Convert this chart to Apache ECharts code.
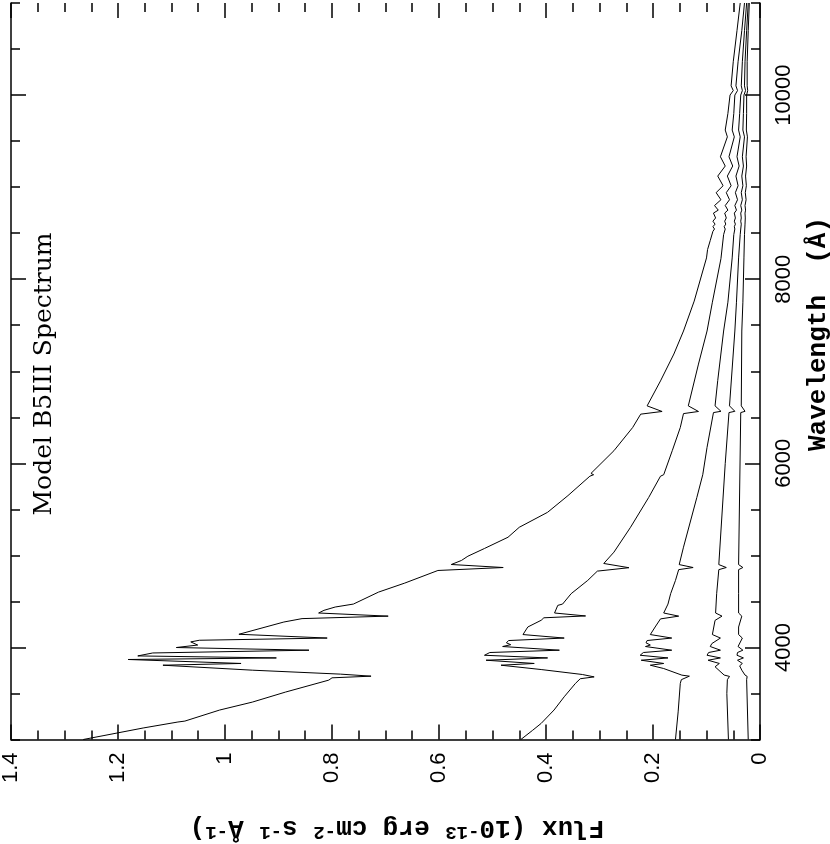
<!DOCTYPE html>
<html>
<head>
<meta charset="utf-8">
<script src="https://cdn.jsdelivr.net/npm/echarts@6/dist/echarts.min.js"></script>
<style>
html,body{margin:0;padding:0;background:#fff;}
#chart{width:830px;height:844px;}
</style>
</head>
<body>
<div id="chart"></div>
<script>
// [wavelength (Å), flux (1e-13 erg cm-2 s-1 Å-1)]
const curve1 = [[3000,1.265],[3041,1.228],[3125,1.153],[3190,1.088],[3200,1.075],[3320,1.01],[3406,0.949],[3515,0.887],[3645,0.806],[3670,0.80],[3688,0.727],[3710,0.784],[3753,0.949],[3807,1.116],[3826,0.97],[3869,1.181],[3886,0.904],[3908,1.163],[3940,1.135],[3970,0.843],[3999,1.091],[4026,1.051],[4060,1.064],[4078,1.048],[4102,0.809],[4143,0.974],[4276,0.89],[4313,0.856],[4340,0.695],[4374,0.825],[4403,0.815],[4439,0.794],[4471,0.76],[4601,0.713],[4699,0.664],[4836,0.602],[4868,0.48],[4901,0.577],[4945,0.558],[4991,0.546],[5075,0.515],[5197,0.471],[5305,0.45],[5468,0.397],[5649,0.359],[5860,0.318],[5876,0.311],[5890,0.316],[6137,0.273],[6389,0.238],[6534,0.223],[6563,0.183],[6624,0.211],[6895,0.186],[7187,0.161],[7437,0.143],[7762,0.123],[8231,0.100],[8322,0.098],[8420,0.093],[8480,0.090],[8520,0.088],[8545,0.085],[8570,0.088],[8598,0.084],[8630,0.088],[8665,0.083],[8718,0.087],[8750,0.078],[8800,0.085],[8863,0.073],[8940,0.082],[9015,0.069],[9120,0.079],[9229,0.065],[9330,0.074],[9546,0.061],[9620,0.065],[9800,0.060],[10000,0.056],[10049,0.050],[10100,0.054],[10362,0.050],[10700,0.043],[11000,0.037]];
const curve2 = [[3000,0.447],[3100,0.425],[3175,0.409],[3320,0.385],[3464,0.366],[3609,0.345],[3660,0.336],[3680,0.31],[3706,0.332],[3760,0.409],[3807,0.484],[3826,0.422],[3861,0.512],[3886,0.397],[3915,0.515],[3945,0.505],[3970,0.375],[4010,0.481],[4030,0.466],[4050,0.474],[4075,0.47],[4102,0.366],[4140,0.443],[4222,0.434],[4295,0.409],[4322,0.404],[4342,0.326],[4374,0.384],[4457,0.378],[4471,0.369],[4490,0.372],[4584,0.353],[4728,0.322],[4829,0.304],[4866,0.245],[4912,0.292],[5035,0.273],[5305,0.242],[5630,0.208],[5860,0.186],[5876,0.180],[5895,0.183],[6137,0.164],[6389,0.149],[6540,0.143],[6563,0.115],[6624,0.134],[7078,0.115],[7437,0.099],[7750,0.089],[8223,0.073],[8484,0.068],[8545,0.065],[8570,0.067],[8598,0.064],[8630,0.066],[8665,0.063],[8718,0.066],[8750,0.060],[8800,0.065],[8863,0.057],[8940,0.063],[9015,0.054],[9120,0.061],[9229,0.051],[9330,0.058],[9546,0.048],[9620,0.052],[9800,0.049],[10000,0.047],[10049,0.042],[10100,0.045],[10362,0.041],[10700,0.034],[11000,0.029]];
const curve3 = [[3000,0.158],[3300,0.153],[3609,0.149],[3650,0.147],[3688,0.132],[3699,0.146],[3771,0.18],[3807,0.205],[3826,0.180],[3861,0.222],[3886,0.172],[3915,0.224],[3945,0.218],[3970,0.165],[4010,0.214],[4026,0.205],[4050,0.213],[4075,0.211],[4102,0.165],[4140,0.205],[4222,0.196],[4310,0.186],[4340,0.152],[4374,0.18],[4471,0.172],[4584,0.167],[4728,0.158],[4845,0.152],[4868,0.125],[4900,0.151],[5089,0.143],[5630,0.118],[5876,0.107],[6173,0.099],[6551,0.087],[6565,0.073],[6624,0.084],[6900,0.079],[7437,0.068],[7750,0.060],[8231,0.052],[8484,0.049],[8545,0.047],[8570,0.048],[8598,0.046],[8630,0.048],[8665,0.046],[8718,0.048],[8750,0.044],[8800,0.047],[8863,0.042],[8940,0.046],[9015,0.041],[9120,0.045],[9229,0.039],[9330,0.043],[9546,0.037],[9620,0.040],[9800,0.038],[10000,0.036],[10049,0.033],[10100,0.035],[10362,0.033],[10700,0.029],[11000,0.025]];
const curve4 = [[3000,0.059],[3500,0.062],[3650,0.061],[3685,0.057],[3700,0.067],[3790,0.084],[3826,0.076],[3861,0.097],[3886,0.074],[3915,0.099],[3945,0.096],[3970,0.074],[4010,0.093],[4042,0.090],[4102,0.074],[4140,0.089],[4294,0.084],[4340,0.071],[4374,0.083],[4584,0.081],[4845,0.077],[4868,0.063],[4900,0.077],[5997,0.065],[6551,0.058],[6565,0.047],[6624,0.057],[7437,0.047],[7750,0.044],[8231,0.040],[8484,0.037],[8545,0.036],[8598,0.035],[8630,0.036],[8665,0.035],[8718,0.036],[8750,0.034],[8800,0.036],[8863,0.033],[8940,0.035],[9015,0.032],[9120,0.034],[9229,0.031],[9330,0.033],[9546,0.029],[9620,0.032],[9800,0.031],[10000,0.030],[10049,0.027],[10100,0.029],[10362,0.028],[10700,0.025],[11000,0.022]];
const curve5 = [[3000,0.022],[3650,0.025],[3685,0.024],[3700,0.028],[3753,0.034],[3800,0.038],[3826,0.033],[3861,0.042],[3886,0.031],[3915,0.043],[3945,0.042],[3970,0.032],[4010,0.041],[4102,0.033],[4140,0.040],[4222,0.040],[4340,0.034],[4374,0.040],[4584,0.040],[4845,0.040],[4868,0.032],[4900,0.040],[6551,0.036],[6565,0.028],[6624,0.035],[7437,0.034],[7750,0.032],[8231,0.030],[8484,0.029],[8598,0.028],[8665,0.0275],[8718,0.028],[8750,0.027],[8800,0.028],[8863,0.026],[8940,0.0275],[9015,0.0255],[9120,0.027],[9229,0.025],[9330,0.026],[9546,0.0235],[9620,0.0255],[9800,0.025],[10000,0.025],[10049,0.023],[10100,0.024],[10362,0.024],[10700,0.022],[11000,0.020]];
const curves = [curve1, curve2, curve3, curve4, curve5];

const waveMajorTicks = [4000, 6000, 8000, 10000];
const titleText = 'Model B5III Spectrum';
const waveName = 'Wavelength  (Å)';

const chart = echarts.init(document.getElementById('chart'));
const black = '#000';
const lineW = 1.5;

function fluxAxis(pos, showLabel) {
  return {
    type: 'value', position: pos, min: 0, max: 1.4, interval: 0.2, inverse: true,
    axisLine: { show: pos === 'bottom', onZero: false, lineStyle: { color: black, width: lineW } },
    axisTick: { show: true, inside: true, length: 15, lineStyle: { color: black, width: lineW } },
    minorTick: { show: true, splitNumber: 4, length: 9, lineStyle: { color: black, width: lineW } },
    splitLine: { show: false }, minorSplitLine: { show: false },
    axisLabel: {
      show: showLabel, rotate: 90, margin: 13, color: black, fontSize: 22,
      fontFamily: 'Liberation Sans', showMinLabel: true, showMaxLabel: true,
      formatter: v => String(+v.toFixed(1))
    }
  };
}
function waveMinorAxis(pos, showLabel) {
  return {
    type: 'value', position: pos, min: 3000, max: 11000, interval: 500,
    axisLine: { show: true, onZero: false, lineStyle: { color: black, width: lineW } },
    axisTick: { show: true, inside: true, length: 9, lineStyle: { color: black, width: lineW } },
    splitLine: { show: false },
    axisLabel: {
      show: showLabel, rotate: 90, margin: 13, color: black, fontSize: 22,
      fontFamily: 'Liberation Sans',
      formatter: v => (v % 2000 === 0 ? String(v) : '')
    }
  };
}
function waveMajorAxis(pos) {
  return {
    type: 'value', position: pos, min: 3000, max: 11000,
    axisLine: { show: false, onZero: false },
    axisTick: { show: true, inside: true, length: 15, customValues: waveMajorTicks, lineStyle: { color: black, width: lineW } },
    splitLine: { show: false },
    axisLabel: { show: false }
  };
}

const option = {
  animation: false,
  backgroundColor: '#fff',
  grid: { left: 8, right: 70, top: 0, bottom: 104.5 },
  xAxis: [fluxAxis('bottom', true), fluxAxis('top', false)],
  yAxis: [waveMinorAxis('right', true), waveMajorAxis('right'), waveMinorAxis('left', false), waveMajorAxis('left')],
  series: curves.map(c => ({
    type: 'line', xAxisIndex: 0, yAxisIndex: 0, symbol: 'none', silent: true,
    lineStyle: { color: black, width: 1 },
    data: c.map(p => [p[1], p[0]])
  })),
  graphic: [
    { type: 'text', x: 44, y: 374, rotation: Math.PI / 2,
      style: { text: titleText, fill: black, font: '25px "DejaVu Serif"', textAlign: 'center', textVerticalAlign: 'middle' } },
    { type: 'text', x: 818, y: 334, rotation: Math.PI / 2,
      style: { text: waveName, fill: black, font: 'bold 26px "Liberation Mono"', textAlign: 'center', textVerticalAlign: 'middle' } },
    { type: 'text', x: 397, y: 828, rotation: Math.PI,
      style: {
        text: 'Flux (10{s|-13} erg cm{s|-2} s{s|-1} Å{s|-1})',
        fill: black, fontFamily: 'Liberation Mono', fontWeight: 'bold', fontSize: 26,
        align: 'center', verticalAlign: 'middle',
        rich: { s: { fontFamily: 'Liberation Mono', fontWeight: 'bold', fontSize: 19, verticalAlign: 'top', fill: black } }
      } }
  ]
};
chart.setOption(option);
</script>
</body>
</html>
